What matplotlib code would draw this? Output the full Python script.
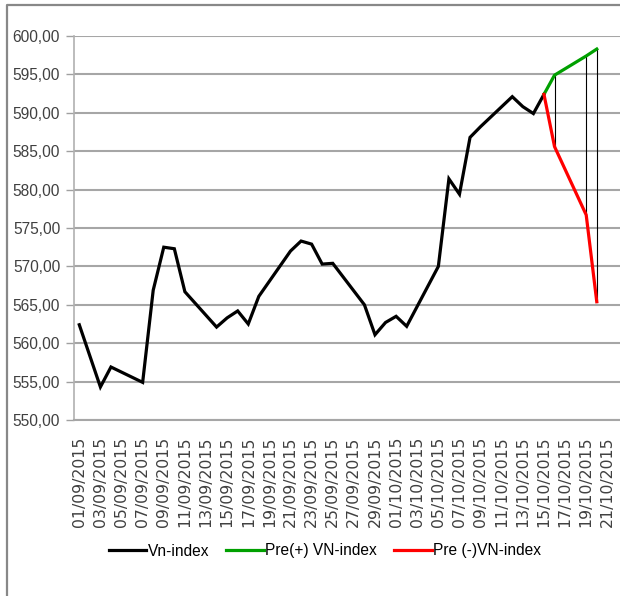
import matplotlib
matplotlib.use("Agg")
import matplotlib.pyplot as plt
import matplotlib.dates as mdates
from matplotlib.lines import Line2D
from matplotlib.ticker import FuncFormatter, MultipleLocator
import pandas as pd

# --- data ---
vn_dates = ["2015-09-01", "2015-09-03", "2015-09-04", "2015-09-07", "2015-09-08",
            "2015-09-09", "2015-09-10", "2015-09-11", "2015-09-14", "2015-09-15",
            "2015-09-16", "2015-09-17", "2015-09-18", "2015-09-21", "2015-09-22",
            "2015-09-23", "2015-09-24", "2015-09-25", "2015-09-28", "2015-09-29",
            "2015-09-30", "2015-10-01", "2015-10-02", "2015-10-05", "2015-10-06",
            "2015-10-07", "2015-10-08", "2015-10-09", "2015-10-12", "2015-10-13",
            "2015-10-14", "2015-10-15"]
vn_values = [562.4, 554.3, 556.9, 554.9, 566.9,
             572.5, 572.3, 566.7, 562.1, 563.3,
             564.2, 562.5, 566.1, 572.0, 573.3,
             572.9, 570.3, 570.4, 565.0, 561.1,
             562.7, 563.5, 562.2, 570.0, 581.4,
             579.4, 586.8, 588.2, 592.1, 590.8,
             589.9, 592.4]
pred_dates = ["2015-10-15", "2015-10-16", "2015-10-19", "2015-10-20"]
pre_plus = [592.4, 594.9, 597.4, 598.3]
pre_minus = [592.4, 585.6, 576.7, 565.4]
tick_start, tick_end = "2015-09-01", "2015-10-21"

labels = ["Vn-index", "Pre(+) VN-index", "Pre (-)VN-index"]

vd = pd.to_datetime(vn_dates)
pdt = pd.to_datetime(pred_dates)

fig = plt.figure(figsize=(6.2, 5.96), dpi=100)
W, H = 620, 596
ax = fig.add_axes([74 / W, 1 - 420 / H, 1 - 74 / W, (420 - 36) / H])

grid_c = "#a6a6a6"
ax.set_ylim(550, 600)
ax.yaxis.set_major_locator(MultipleLocator(5))
ax.yaxis.grid(True, color=grid_c, lw=1.5)
ax.set_axisbelow(True)

# high-low lines
for d, hi, lo in zip(pdt[1:], pre_plus[1:], pre_minus[1:]):
    ax.plot([d, d], [lo, hi], color="black", lw=0.8, zorder=2)

l1, = ax.plot(vd, vn_values, color="black", lw=2.3, zorder=3, solid_joinstyle="miter")
l2, = ax.plot(pdt, pre_plus, color="#00a000", lw=2.3, zorder=3)
l3, = ax.plot(pdt, pre_minus, color="#ff0000", lw=2.3, zorder=3)

start = pd.Timestamp(tick_start)
end = pd.Timestamp(tick_end)
ax.set_xlim(mdates.date2num(start) - 0.5, mdates.date2num(start) + 51.2)
ticks = pd.date_range(start, end, freq="2D")
ax.set_xticks(ticks)
ax.set_xticklabels([t.strftime("%d/%m/%Y") for t in ticks], rotation=90,
                   family="DejaVu Sans", fontsize=11.3, color="#404040")
ax.tick_params(axis="x", length=0, pad=12)

ax.yaxis.set_major_formatter(FuncFormatter(lambda v, p: f"{v:.2f}".replace(".", ",")))
ax.tick_params(axis="y", length=6, width=1, color="#a0a0a0", pad=4)
for t in ax.get_yticklabels():
    t.set_family(["Liberation Sans", "DejaVu Sans"])
    t.set_fontsize(11.2)
    t.set_color("#404040")

for s in ["top", "right"]:
    ax.spines[s].set_visible(False)
ax.spines["left"].set_color("#b0b0b0")
ax.spines["left"].set_linewidth(1.2)
ax.spines["bottom"].set_color(grid_c)
ax.spines["bottom"].set_linewidth(1.5)

fig.legend([l1, l2, l3], labels, loc="center", ncol=3,
           bbox_to_anchor=(325 / W, 1 - 551 / H), frameon=False,
           prop={"family": ["Liberation Sans", "DejaVu Sans"], "size": 11.2},
           handlelength=2.4, handletextpad=0.1, columnspacing=1.1)

# chart area border (left and top edges visible)
fig.add_artist(Line2D([7 / W, 7 / W, 1.0], [0.0, 1 - 5 / H, 1 - 5 / H],
                      transform=fig.transFigure, color="#888888", lw=1.6))

fig.savefig("out.png", dpi=100)
